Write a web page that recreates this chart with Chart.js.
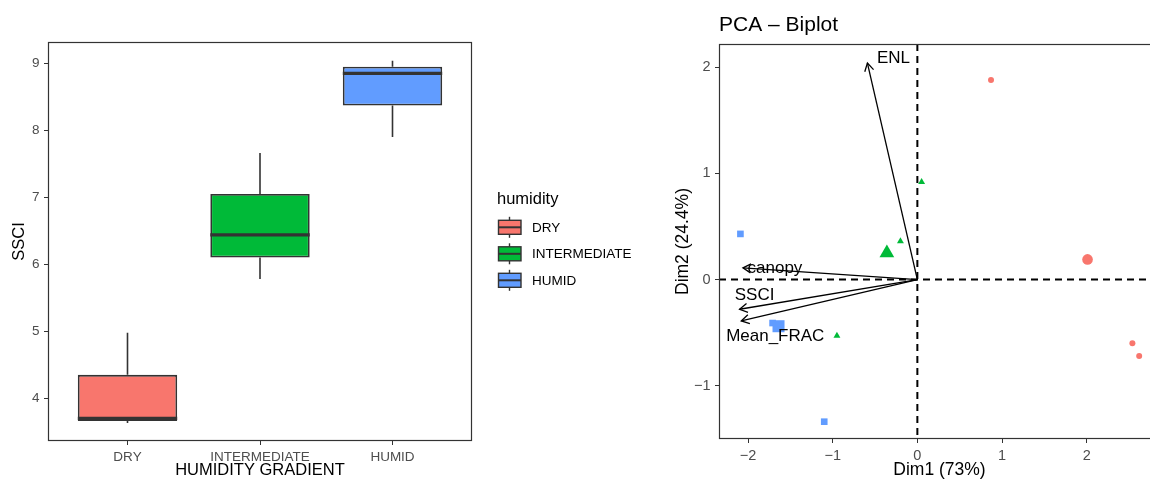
<!DOCTYPE html>
<html>
<head>
<meta charset="utf-8">
<title>SSCI boxplot and PCA biplot</title>
<script src="https://cdn.jsdelivr.net/npm/chart.js@4.4.0/dist/chart.umd.min.js"></script>
<style>
  html, body { margin: 0; padding: 0; background: #fff; overflow: hidden; width: 1150px; height: 479px; }
  #boxWrap { position: absolute; left: 0; top: 0; width: 680px; height: 479px; }
  #pcaWrap { position: absolute; left: 650px; top: 0; width: 520px; height: 479px; }
</style>
</head>
<body>
<div id="boxWrap"><canvas id="boxChart" width="680" height="479"></canvas></div>
<div id="pcaWrap"><canvas id="pcaChart" width="520" height="479"></canvas></div>
<script>
// ---- SSCI by humidity (box plot) ----
const humidity = ['DRY', 'INTERMEDIATE', 'HUMID'];
const humidityColors = ['#F8766D', '#00BA38', '#619CFF'];
const ssciLower  = [3.63, 5.78, 7.90];
const ssciQ1     = [3.66, 6.10, 8.37];
const ssciMedian = [3.70, 6.44, 8.85];
const ssciQ3     = [4.35, 7.05, 8.95];
const ssciUpper  = [4.98, 7.66, 9.04];
const ssciTicks  = [4, 5, 6, 7, 8, 9];

// ---- PCA individuals, group means and variable loadings ----
const dryDim1 = [0.87, 2.54, 2.62];
const dryDim2 = [1.88, -0.60, -0.72];
const intDim1 = [0.05, -0.20, -0.95];
const intDim2 = [0.92, 0.36, -0.53];
const humDim1 = [-2.09, -1.71, -1.10];
const humDim2 = [0.43, -0.41, -1.34];
const meanDim1 = [2.01, -0.36, -1.64];
const meanDim2 = [0.19, 0.25, -0.44];
const varNames = ['ENL', 'canopy', 'SSCI', 'Mean_FRAC'];
const varDim1 = [-0.59, -2.06, -2.10, -2.08];
const varDim2 = [2.04, 0.11, -0.28, -0.39];
const dim1Ticks = [-2, -1, 0, 1, 2];
const dim2Ticks = [-1, 0, 1, 2];

Chart.defaults.font.family = "'Liberation Sans', Arial, Helvetica, sans-serif";
Chart.defaults.animation = false;

const INK = '#333333';
const TICK_GREY = '#4D4D4D';
const minusLabel = v => (v < 0 ? '\u2212' + Math.abs(v) : String(v));

// whiskers behind the boxes, medians on top, plus frame and legend
const boxExtras = {
    id: 'boxExtras',
    beforeDatasetsDraw(chart) {
        const { ctx, scales: { x, y } } = chart;
        ctx.save();
        ctx.strokeStyle = INK;
        ctx.lineWidth = 1.6;
        humidity.forEach((h, i) => {
            const px = x.getPixelForValue(i + 1);
            ctx.beginPath();
            ctx.moveTo(px, y.getPixelForValue(ssciUpper[i]));
            ctx.lineTo(px, y.getPixelForValue(ssciQ3[i]));
            ctx.moveTo(px, y.getPixelForValue(ssciQ1[i]));
            ctx.lineTo(px, y.getPixelForValue(ssciLower[i]));
            ctx.stroke();
        });
        ctx.restore();
    },
    afterDatasetsDraw(chart) {
        const { ctx, scales: { y } } = chart;
        const meta = chart.getDatasetMeta(0);
        ctx.save();
        ctx.strokeStyle = INK;
        ctx.lineWidth = 3.2;
        meta.data.forEach((bar, i) => {
            const py = y.getPixelForValue(ssciMedian[i]);
            ctx.beginPath();
            ctx.moveTo(bar.x - bar.width / 2, py);
            ctx.lineTo(bar.x + bar.width / 2, py);
            ctx.stroke();
        });
        ctx.restore();
    },
    afterDraw(chart) {
        const { ctx, chartArea: a } = chart;
        ctx.save();
        ctx.strokeStyle = INK;
        ctx.lineWidth = 1.2;
        ctx.strokeRect(a.left + 0.5, a.top + 0.5, a.right - a.left - 1, a.bottom - a.top - 1);

        // legend
        ctx.fillStyle = '#000';
        ctx.font = "16.5px 'Liberation Sans', Arial, sans-serif";
        ctx.textBaseline = 'alphabetic';
        ctx.fillText('humidity', 497, 204);
        ctx.font = "13.5px 'Liberation Sans', Arial, sans-serif";
        ctx.textBaseline = 'middle';
        humidity.forEach((h, i) => {
            const cy = 227.3 + i * 26.5;
            ctx.strokeStyle = INK;
            ctx.lineWidth = 1.4;
            ctx.beginPath();
            ctx.moveTo(509.5, cy - 10.5);
            ctx.lineTo(509.5, cy + 10.5);
            ctx.stroke();
            ctx.fillStyle = humidityColors[i];
            ctx.fillRect(498.5, cy - 7, 22.5, 14);
            ctx.strokeRect(498.5, cy - 7, 22.5, 14);
            ctx.lineWidth = 2;
            ctx.beginPath();
            ctx.moveTo(498.5, cy);
            ctx.lineTo(521, cy);
            ctx.stroke();
            ctx.fillStyle = '#000';
            ctx.fillText(h, 532, cy + 0.5);
        });
        ctx.restore();
    }
};

new Chart(document.getElementById('boxChart'), {
    type: 'bar',
    data: {
        datasets: [{
            data: humidity.map((h, i) => ({ x: i + 1, y: [ssciQ1[i], ssciQ3[i]] })),
            backgroundColor: humidityColors,
            borderColor: INK,
            borderWidth: 1.8,
            borderSkipped: false,
            barPercentage: 0.75,
            categoryPercentage: 1
        }]
    },
    options: {
        responsive: false,
        layout: { padding: { left: 0, top: 42, right: 208, bottom: 0 } },
        plugins: { legend: { display: false }, tooltip: { enabled: false } },
        scales: {
            x: {
                type: 'linear',
                min: 0.4,
                max: 3.6,
                offset: false,
                afterBuildTicks: s => { s.ticks = humidity.map((h, i) => ({ value: i + 1 })); },
                afterFit: s => { s.height = 38; },
                ticks: {
                    callback: v => humidity[v - 1],
                    color: TICK_GREY,
                    font: { size: 13.5 },
                    padding: 4,
                    maxRotation: 0,
                    autoSkip: false
                },
                grid: { offset: false, drawOnChartArea: false, tickLength: 4, color: INK },
                border: { display: false },
                title: {
                    display: true,
                    text: 'HUMIDITY GRADIENT',
                    color: '#000',
                    font: { size: 16.5, lineHeight: 1 },
                    padding: { top: 0, bottom: 0 }
                }
            },
            y: {
                min: 3.363,
                max: 9.318,
                afterBuildTicks: s => { s.ticks = ssciTicks.map(v => ({ value: v })); },
                afterFit: s => { s.width = 48; },
                ticks: { color: TICK_GREY, font: { size: 13.5 }, padding: 4.5 },
                grid: { drawOnChartArea: false, tickLength: 4, color: INK },
                border: { display: false },
                title: {
                    display: true,
                    text: 'SSCI',
                    color: '#000',
                    font: { size: 16.5, lineHeight: 1 },
                    padding: { top: 11, bottom: 0 }
                }
            }
        }
    },
    plugins: [boxExtras]
});

// zero reference lines, arrowheads, variable labels, frame and title
const biplotExtras = {
    id: 'biplotExtras',
    beforeDatasetsDraw(chart) {
        const { ctx, chartArea: a, scales: { x, y } } = chart;
        const x0 = x.getPixelForValue(0);
        const y0 = y.getPixelForValue(0);
        ctx.save();
        ctx.strokeStyle = '#000';
        ctx.lineWidth = 2;
        ctx.setLineDash([7, 5]);
        ctx.beginPath();
        ctx.moveTo(x0, a.top);
        ctx.lineTo(x0, a.bottom);
        ctx.moveTo(a.left, y0);
        ctx.lineTo(a.right, y0);
        ctx.stroke();
        ctx.restore();
    },
    afterDatasetsDraw(chart, args, opts) {
        const { ctx, scales: { x, y } } = chart;
        const x0 = x.getPixelForValue(0);
        const y0 = y.getPixelForValue(0);
        ctx.save();
        ctx.strokeStyle = '#000';
        ctx.lineWidth = 1.3;
        ctx.fillStyle = '#000';
        ctx.font = "17px 'Liberation Sans', Arial, sans-serif";
        ctx.textAlign = 'center';
        ctx.textBaseline = 'middle';
        varNames.forEach((name, i) => {
            const tx = x.getPixelForValue(varDim1[i]);
            const ty = y.getPixelForValue(varDim2[i]);
            const ang = Math.atan2(ty - y0, tx - x0);
            const len = 9;
            ctx.beginPath();
            ctx.moveTo(tx - len * Math.cos(ang - Math.PI / 6), ty - len * Math.sin(ang - Math.PI / 6));
            ctx.lineTo(tx, ty);
            ctx.lineTo(tx - len * Math.cos(ang + Math.PI / 6), ty - len * Math.sin(ang + Math.PI / 6));
            ctx.stroke();
            const [dx, dy] = opts.nudge[name];
            ctx.fillText(name, tx + dx, ty + dy);
        });
        ctx.restore();
    },
    afterDraw(chart) {
        const { ctx, chartArea: a } = chart;
        ctx.save();
        ctx.strokeStyle = INK;
        ctx.lineWidth = 1.2;
        ctx.strokeRect(a.left + 0.5, a.top + 0.5, a.right - a.left - 1, a.bottom - a.top - 1);
        ctx.fillStyle = '#000';
        ctx.font = "21px 'Liberation Sans', Arial, sans-serif";
        ctx.textBaseline = 'alphabetic';
        ctx.fillText('PCA \u2013 Biplot', a.left, 31);
        ctx.restore();
    }
};

const pts = (xs, ys) => xs.map((v, i) => ({ x: v, y: ys[i] }));
const groupPoints = (xs, ys, color, style, r) => ({
    data: pts(xs, ys),
    pointStyle: style,
    pointRadius: r,
    backgroundColor: color,
    borderWidth: 0
});

new Chart(document.getElementById('pcaChart'), {
    type: 'scatter',
    data: {
        datasets: [
            groupPoints(dryDim1, dryDim2, humidityColors[0], 'circle', 3),
            groupPoints(intDim1, intDim2, humidityColors[1], 'triangle', 4),
            groupPoints(humDim1, humDim2, humidityColors[2], 'rect', 4.7),
            {
                data: pts(meanDim1, meanDim2),
                pointStyle: ['circle', 'triangle', 'rect'],
                pointRadius: [5.3, 8.5, 8.5],
                backgroundColor: humidityColors,
                borderWidth: 0
            },
            ...varNames.map((name, i) => ({
                data: [{ x: 0, y: 0 }, { x: varDim1[i], y: varDim2[i] }],
                showLine: true,
                borderColor: '#000',
                borderWidth: 1.3,
                pointRadius: 0
            }))
        ]
    },
    options: {
        responsive: false,
        layout: { padding: { left: 0, top: 44, right: 10, bottom: 0 } },
        plugins: {
            legend: { display: false },
            tooltip: { enabled: false },
            biplotExtras: {
                nudge: { ENL: [26, -5], canopy: [32, 0], SSCI: [15, -14], Mean_FRAC: [34, 15] }
            }
        },
        scales: {
            x: {
                type: 'linear',
                min: -2.343,
                max: 2.866,
                afterBuildTicks: s => { s.ticks = dim1Ticks.map(v => ({ value: v })); },
                afterFit: s => { s.height = 40; },
                ticks: { callback: minusLabel, color: TICK_GREY, font: { size: 14.5 }, padding: 4, maxRotation: 0 },
                grid: { drawOnChartArea: false, tickLength: 4, color: INK },
                border: { display: false },
                title: {
                    display: true,
                    text: 'Dim1 (73%)',
                    color: '#000',
                    font: { size: 17.5, lineHeight: 1 },
                    padding: { top: 0, bottom: 0 }
                }
            },
            y: {
                min: -1.503,
                max: 2.22,
                afterBuildTicks: s => { s.ticks = dim2Ticks.map(v => ({ value: v })); },
                afterFit: s => { s.width = 69; },
                ticks: { callback: minusLabel, color: TICK_GREY, font: { size: 14.5 }, padding: 4.5 },
                grid: { drawOnChartArea: false, tickLength: 4, color: INK },
                border: { display: false },
                title: {
                    display: true,
                    text: 'Dim2 (24.4%)',
                    color: '#000',
                    font: { size: 17.5, lineHeight: 1 },
                    padding: { top: 24, bottom: 0 }
                }
            }
        }
    },
    plugins: [biplotExtras]
});
</script>
</body>
</html>
